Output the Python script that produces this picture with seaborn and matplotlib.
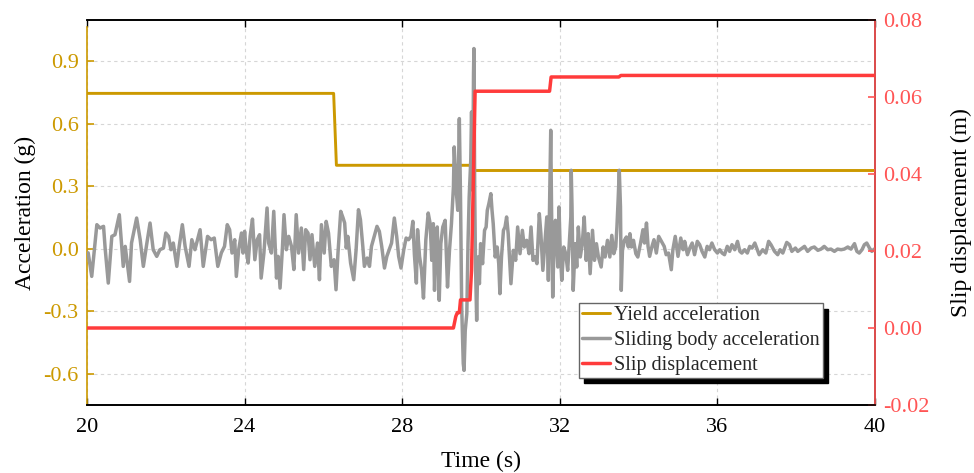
import numpy as np
import pandas as pd
import matplotlib
matplotlib.use("Agg")
import matplotlib.pyplot as plt
import seaborn as sns
from matplotlib.lines import Line2D

# ---- data -------------------------------------------------------------
# Yield acceleration (g), stepwise in time
yield_time = [20.0, 26.26, 26.33, 29.80, 29.83, 40.0]
yield_g = [0.745, 0.745, 0.400, 0.400, 0.375, 0.375]

# Slip displacement (m)
slip_time = [20.0, 29.30, 29.36, 29.40, 29.45, 29.48, 29.72, 29.76, 29.85,
             31.74, 31.78, 33.50, 33.55, 40.0]
slip_m = [0.0, 0.0, 0.003, 0.004, 0.004, 0.0073, 0.0073, 0.015, 0.0615,
          0.0615, 0.0652, 0.0652, 0.0656, 0.0656]

# Sliding body acceleration (g)
accel_time = [
    20.03, 20.12, 20.25, 20.33, 20.42, 20.46, 20.54, 20.63, 20.71, 20.82,
    20.92, 20.97, 21.08, 21.13, 21.26, 21.35, 21.43, 21.52, 21.60, 21.68,
    21.77, 21.85, 21.94, 22.00, 22.07, 22.13, 22.19, 22.28, 22.34, 22.42,
    22.49, 22.59, 22.66, 22.74, 22.87, 22.95, 23.06, 23.15, 23.23, 23.32,
    23.41, 23.49, 23.56, 23.62, 23.68, 23.75, 23.79, 23.85, 23.92, 23.96,
    24.00, 24.04, 24.09, 24.14, 24.20, 24.26, 24.32, 24.38, 24.42, 24.49,
    24.57, 24.61, 24.68, 24.74, 24.81, 24.85, 24.90, 24.96, 25.00, 25.06,
    25.12, 25.19, 25.25, 25.31, 25.37, 25.44, 25.50, 25.55, 25.61, 25.66,
    25.71, 25.78, 25.85, 25.90, 25.95, 26.02, 26.07, 26.13, 26.20, 26.27,
    26.32, 26.37, 26.44, 26.50, 26.54, 26.58, 26.62, 26.69,
    26.77, 26.83, 26.89, 26.94, 27.00, 27.04, 27.11, 27.17, 27.22, 27.29,
    27.36, 27.42, 27.48, 27.55, 27.61, 27.67, 27.73, 27.80, 27.86, 27.91,
    27.97, 28.04, 28.10, 28.16, 28.22, 28.27, 28.31, 28.36, 28.39, 28.44,
    28.49, 28.54, 28.60, 28.66,
    28.71, 28.75, 28.79, 28.82, 28.86, 28.89, 28.94, 28.98, 29.03, 29.09,
    29.15, 29.20, 29.25, 29.30, 29.32, 29.37, 29.41, 29.45, 29.48, 29.51,
    29.53, 29.55, 29.57, 29.60, 29.64, 29.67, 29.70, 29.74, 29.76, 29.79,
    29.81, 29.82, 29.84, 29.86, 29.89, 29.92, 29.96, 29.99, 30.04, 30.09,
    30.13, 30.16, 30.20, 30.25, 30.28, 30.31, 30.36, 30.41, 30.45, 30.48,
    30.52, 30.57,
    30.61, 30.65, 30.69, 30.76, 30.82, 30.88, 30.93, 30.99, 31.05, 31.10,
    31.16, 31.22, 31.27, 31.32, 31.37, 31.42, 31.48, 31.52, 31.57, 31.62,
    31.67, 31.71, 31.74, 31.77, 31.79, 31.82, 31.85, 31.89, 31.95, 31.98,
    32.01, 32.05, 32.10, 32.15, 32.20, 32.24, 32.28, 32.29, 32.31, 32.34,
    32.39, 32.43, 32.47, 32.52, 32.57, 32.62, 32.67, 32.72, 32.77, 32.83,
    32.88, 32.93, 32.98, 33.05, 33.10, 33.15, 33.21, 33.27, 33.32, 33.37,
    33.42, 33.45, 33.48, 33.51, 33.54, 33.56, 33.59, 33.64, 33.69, 33.74,
    33.78, 33.82, 33.87, 33.93, 33.98,
    34.05, 34.11, 34.15, 34.20, 34.24, 34.28, 34.34, 34.39, 34.45, 34.51,
    34.58, 34.65, 34.70, 34.76, 34.83, 34.87, 34.93, 35.00, 35.07, 35.13,
    35.17, 35.24, 35.30, 35.36, 35.42, 35.49, 35.55, 35.61, 35.68, 35.74,
    35.80, 35.86, 35.93, 36.00, 36.06, 36.12, 36.18, 36.25, 36.31, 36.37,
    36.44, 36.51, 36.57, 36.62, 36.69, 36.76, 36.82, 36.88, 36.95,
    37.06, 37.15, 37.23, 37.30, 37.36, 37.45, 37.53, 37.59, 37.66, 37.76,
    37.83, 37.89, 37.98, 38.04, 38.12, 38.21, 38.29, 38.38, 38.46, 38.55,
    38.63, 38.71, 38.80, 38.88, 38.97, 39.05, 39.14, 39.22, 39.31, 39.39,
    39.48, 39.54, 39.60, 39.67, 39.73, 39.79, 39.86, 39.92, 39.98,
]
accel_g = [
    -0.020, -0.133, 0.115, 0.099, 0.107, 0.003, -0.165, 0.059, 0.067, 0.163,
    -0.085, 0.011, -0.157, 0.027, 0.147, 0.043, -0.085, 0.027, 0.123, -0.005,
    -0.037, -0.005, 0.003, 0.075, 0.059, -0.005, 0.027, -0.085, 0.011, 0.115,
    0.011, -0.085, 0.043, -0.005, 0.091, -0.085, 0.059, 0.043, 0.051, -0.085,
    -0.020, 0.011, 0.115, 0.091, -0.021, 0.043, -0.133, -0.005, 0.075, -0.021,
    0.083, -0.005, -0.069, 0.059, 0.142, -0.053, 0.043, 0.067, -0.141, -0.021,
    0.195, 0.027, -0.021, 0.179, -0.141, -0.037, -0.189, 0.003, 0.163, -0.005,
    0.059, 0.011, -0.100, 0.163, -0.021, 0.099, -0.100, 0.091, 0.075, -0.053,
    0.067, -0.085, 0.027, -0.149, 0.115, -0.021, 0.131, 0.075, -0.085, -0.053,
    -0.197, -0.021, 0.179, 0.147, 0.123, 0.003, 0.059, -0.069,
    -0.149, -0.005, 0.187, 0.139, 0.011, -0.085, -0.045, -0.085, 0.011, 0.059,
    0.107, 0.083, 0.011, -0.093, -0.037, -0.005, 0.027, 0.147, 0.059, -0.037,
    -0.093, -0.005, 0.051, 0.043, 0.059, 0.131, -0.029, -0.165, 0.091, -0.037,
    -0.101, -0.237, 0.043, 0.171,
    0.120, -0.056, 0.120, -0.200, 0.024, 0.104, -0.248, 0.024, 0.104, 0.136,
    -0.184, -0.008, 0.120, 0.296, 0.488, 0.280, 0.184, 0.624, 0.248, -0.280,
    -0.424, -0.552, -0.584, -0.392, -0.312, 0.024, 0.248, 0.424, 0.656, 0.280,
    0.840, 0.960, 0.280, -0.072, -0.344, -0.040, -0.168, 0.024, -0.072, 0.088,
    0.104, 0.184, 0.216, 0.264, 0.184, 0.120, -0.040, 0.008, -0.072, -0.216,
    -0.040, 0.088,
    0.104, 0.152, 0.072, -0.168, -0.008, -0.056, 0.104, -0.024, 0.088, 0.008,
    0.040, -0.024, 0.104, -0.056, -0.040, -0.072, 0.168, 0.072, -0.104, 0.024,
    0.152, -0.152, 0.200, 0.568, 0.200, -0.232, -0.008, 0.136, -0.088, 0.200,
    -0.008, -0.152, 0.008, -0.024, -0.104, 0.024, 0.152, 0.376, 0.200, -0.200,
    0.024, -0.088, 0.104, -0.040, 0.024, 0.152, -0.056, 0.072, -0.120, 0.088,
    -0.056, 0.024, -0.040, -0.088, 0.008, -0.040, 0.040, -0.040, 0.064, -0.024,
    0.008, 0.104, 0.232, 0.376, 0.200, -0.200, -0.008, 0.040, 0.056, 0.008,
    0.072, 0.008, 0.040, -0.024, -0.040,
    0.027, 0.091, 0.027, 0.123, 0.011, -0.037, 0.011, 0.043, -0.021, 0.059,
    0.035, 0.011, -0.029, -0.021, -0.101, -0.005, 0.059, -0.037, 0.051, -0.005,
    0.035, -0.029, 0.003, 0.027, -0.029, 0.035, 0.019, -0.013, -0.040, 0.011,
    -0.005, 0.027, -0.005, -0.021, -0.005, -0.021, -0.029, 0.011, -0.013, 0.019,
    -0.005, 0.035, -0.013, -0.021, -0.005, -0.021, 0.011, 0.003, 0.027,
    -0.029, -0.005, -0.021, 0.035, 0.019, -0.013, -0.029, -0.005, -0.021, 0.030,
    0.019, -0.013, 0.003, -0.013, -0.002, 0.011, -0.013, 0.003, 0.008, -0.008,
    -0.002, 0.011, -0.005, -0.002, -0.013, -0.002, -0.005, -0.002, 0.008, -0.002,
    0.024, -0.013, -0.021, -0.005, 0.019, 0.027, 0.003, -0.013, -0.002,
]

x_ticks = [20, 24, 28, 32, 36, 40]
acc_ticks = [-0.6, -0.3, 0.0, 0.3, 0.6, 0.9]
slip_ticks = [-0.02, 0.0, 0.02, 0.04, 0.06, 0.08]

# ---- style ------------------------------------------------------------
sns.set_theme(style="ticks")
plt.rcParams["font.family"] = ["Liberation Serif", "DejaVu Serif"]
plt.rcParams["axes.unicode_minus"] = False

GOLD = "#CC9900"
GRAY = "#999999"
RED = "#FF3B3B"
RED_AX = "#FF5555"

fig = plt.figure(figsize=(9.74, 4.73), dpi=100)
ax = fig.add_axes([87 / 974, 1 - 405 / 473, 788 / 974, 385 / 473])
ax2 = ax.twinx()

df_yield = pd.DataFrame({"t": yield_time, "a": yield_g})
df_acc = pd.DataFrame({"t": accel_time, "a": accel_g})
df_slip = pd.DataFrame({"t": slip_time, "s": slip_m})

sns.lineplot(data=df_yield, x="t", y="a", ax=ax, color=GOLD, lw=2.1,
             estimator=None, sort=False, zorder=3)
sns.lineplot(data=df_acc, x="t", y="a", ax=ax, color=GRAY, lw=2.5,
             estimator=None, sort=False, zorder=4)
sns.lineplot(data=df_slip, x="t", y="s", ax=ax2, color=RED, lw=2.5,
             estimator=None, sort=False, zorder=5)

# axes ranges and ticks
ax.set_xlim(20, 40)
ax.set_ylim(-0.75, 1.097)
ax2.set_ylim(-0.02, 0.08)
ax.set_xticks(x_ticks)
ax.set_yticks(acc_ticks)
ax.set_yticklabels([f"{v:.1f}" for v in acc_ticks])
ax2.set_yticks(slip_ticks)
ax2.set_yticklabels([f"{v:.2f}" for v in slip_ticks])

ax.grid(True, ls=(0, (3, 3)), color="#d6d6d6", lw=0.8)
ax.set_axisbelow(True)

ax.tick_params(axis="x", direction="in", length=5, width=1, colors="black",
               labelsize=16, top=True, pad=9)
ax.tick_params(axis="y", direction="in", length=5, width=1.2, colors=GOLD,
               labelsize=16, pad=6)
ax2.tick_params(axis="y", direction="in", length=5, width=1.2, colors=RED_AX,
                labelsize=16, pad=6)

for a in (ax, ax2):
    for s in a.spines.values():
        s.set_linewidth(1.2)
        s.set_color("black")
ax2.spines["left"].set_visible(False)
ax.spines["left"].set_color(GOLD)
ax.spines["left"].set_bounds(-0.75, 1.065)
ax2.spines["right"].set_color(RED_AX)

ax.set_xlabel("Time (s)", fontsize=17, labelpad=10, color="black")
ax.set_ylabel("Acceleration (g)", fontsize=17, labelpad=5, color="black")
ax2.set_ylabel("Slip displacement (m)", fontsize=17, labelpad=15, color="black")

handles = [
    Line2D([], [], color=GOLD, lw=2.1),
    Line2D([], [], color=GRAY, lw=2.5),
    Line2D([], [], color=RED, lw=2.5),
]
labels = ["Yield acceleration", "Sliding body acceleration", "Slip displacement"]
leg = ax2.legend(handles, labels, loc="upper left",
                 bbox_to_anchor=(0.624, 0.265), borderaxespad=0,
                 fontsize=14.5, frameon=True, fancybox=False,
                 shadow={"ox": 4, "oy": -4, "color": "black", "alpha": 1},
                 handlelength=1.4, handletextpad=0.2, labelspacing=0.28,
                 borderpad=0.15)
leg.get_frame().set_edgecolor("#666666")
leg.get_frame().set_linewidth(1.0)
leg.get_frame().set_alpha(1)

fig.savefig("out.png", dpi=100)
